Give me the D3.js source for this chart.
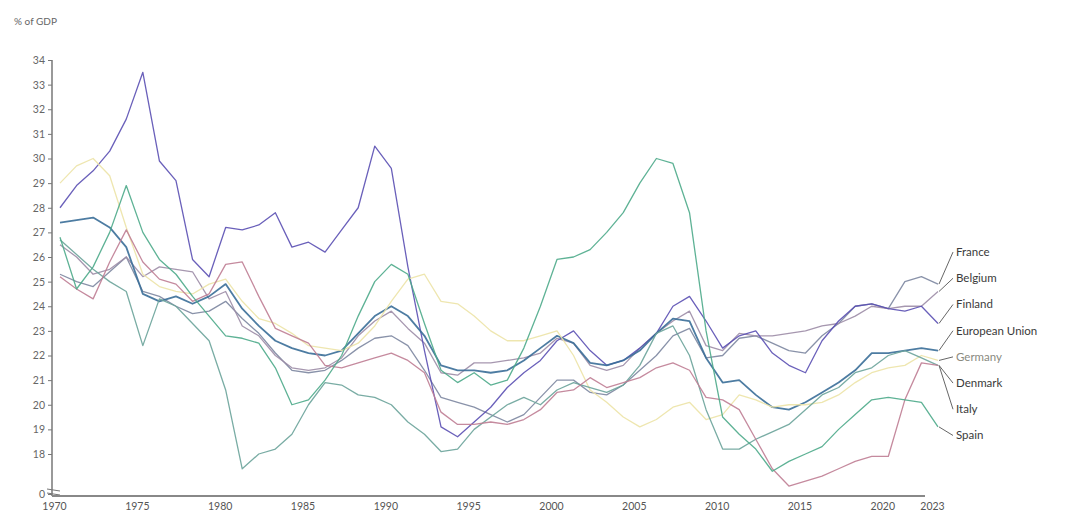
<!DOCTYPE html>
<html>
<head>
<meta charset="utf-8">
<script src="https://cdn.jsdelivr.net/npm/d3@7"></script>
<style>
  body { margin: 0; background: #fff; }
  svg text { font-family: Lato, "Open Sans", sans-serif; }
</style>
</head>
<body>
<div class="chart"></div>
<script>
const years = d3.range(1970, 2024)
const xTickYears = [1970, 1975, 1980, 1985, 1990, 1995, 2000, 2005, 2010, 2015, 2020, 2023]
const yTicks = [18, 19, 20, 21, 22, 23, 24, 25, 26, 27, 28, 29, 30, 31, 32, 33, 34]

const france = [25.3, 25.0, 24.8, 25.4, 26.0, 24.6, 24.4, 24.0, 23.7, 23.8, 24.2, 23.5, 22.9, 22.1, 21.4, 21.3, 21.4, 21.8, 22.3, 22.7, 22.8, 22.4, 21.4, 20.3, 20.1, 19.9, 19.6, 19.3, 19.6, 20.3, 21.0, 21.0, 20.5, 20.4, 20.8, 21.4, 22.0, 22.8, 23.1, 21.9, 22.0, 22.7, 22.8, 22.5, 22.2, 22.1, 22.8, 23.3, 24.0, 24.1, 23.9, 25.0, 25.2, 24.9]
const belgium = [26.5, 26.0, 25.3, 25.5, 26.0, 25.2, 25.6, 25.5, 25.4, 24.3, 24.6, 23.2, 22.8, 22.0, 21.5, 21.4, 21.5, 21.9, 22.8, 23.4, 23.8, 23.1, 22.5, 21.3, 21.2, 21.7, 21.7, 21.8, 21.9, 22.1, 22.7, 22.5, 21.6, 21.4, 21.6, 22.3, 22.9, 23.4, 23.8, 22.4, 22.2, 22.9, 22.8, 22.8, 22.9, 23.0, 23.2, 23.3, 23.6, 24.0, 23.9, 24.0, 24.0, 24.6]
const finland = [28.0, 28.9, 29.5, 30.3, 31.6, 33.5, 29.9, 29.1, 25.9, 25.2, 27.2, 27.1, 27.3, 27.8, 26.4, 26.6, 26.2, 27.1, 28.0, 30.5, 29.6, 25.6, 22.2, 19.1, 18.7, 19.3, 19.9, 20.7, 21.3, 21.8, 22.6, 23.0, 22.2, 21.6, 21.8, 22.3, 22.9, 24.0, 24.4, 23.4, 22.3, 22.8, 23.0, 22.1, 21.6, 21.3, 22.6, 23.4, 24.0, 24.1, 23.9, 23.8, 24.0, 23.3]
const eu = [27.4, 27.5, 27.6, 27.2, 26.4, 24.5, 24.2, 24.4, 24.1, 24.4, 24.9, 23.9, 23.2, 22.6, 22.3, 22.1, 22.0, 22.2, 22.9, 23.6, 24.0, 23.6, 22.8, 21.6, 21.4, 21.4, 21.3, 21.4, 21.8, 22.3, 22.8, 22.5, 21.7, 21.6, 21.8, 22.2, 22.9, 23.5, 23.4, 21.9, 20.9, 21.0, 20.4, 19.9, 19.8, 20.1, 20.5, 20.9, 21.4, 22.1, 22.1, 22.2, 22.3, 22.2]
const germany = [29.0, 29.7, 30.0, 29.3, 27.2, 25.3, 24.8, 24.6, 24.5, 24.9, 25.1, 24.2, 23.5, 23.3, 22.9, 22.4, 22.3, 22.2, 22.5, 23.2, 24.2, 25.1, 25.3, 24.2, 24.1, 23.6, 23.0, 22.6, 22.6, 22.8, 23.0, 22.0, 20.6, 20.1, 19.5, 19.1, 19.4, 19.9, 20.1, 19.4, 19.6, 20.4, 20.2, 19.9, 20.0, 20.0, 20.1, 20.4, 20.9, 21.3, 21.5, 21.6, 22.0, 21.8]
const denmark = [26.7, 26.1, 25.5, 25.0, 24.6, 22.4, 24.3, 24.0, 23.3, 22.6, 20.6, 17.4, 18.0, 18.2, 18.8, 20.0, 20.9, 20.8, 20.4, 20.3, 20.0, 19.3, 18.8, 18.1, 18.2, 19.0, 19.5, 20.0, 20.3, 20.0, 20.6, 20.9, 20.7, 20.5, 20.8, 21.6, 22.9, 23.2, 22.0, 19.8, 18.2, 18.2, 18.6, 18.9, 19.2, 19.8, 20.4, 20.7, 21.3, 21.5, 22.0, 22.2, 21.9, 21.6]
const italy = [25.2, 24.7, 24.3, 25.8, 27.1, 25.8, 25.1, 24.9, 24.2, 24.5, 25.7, 25.8, 24.4, 23.1, 22.8, 22.5, 21.6, 21.5, 21.7, 21.9, 22.1, 21.8, 21.3, 19.7, 19.2, 19.2, 19.3, 19.2, 19.4, 19.8, 20.5, 20.6, 21.1, 20.7, 20.9, 21.1, 21.5, 21.7, 21.4, 20.3, 20.2, 19.8, 18.6, 17.4, 16.7, 16.9, 17.1, 17.4, 17.7, 17.9, 17.9, 20.2, 21.7, 21.6]
const spain = [26.8, 24.7, 25.6, 27.0, 28.9, 27.0, 25.9, 25.3, 24.4, 23.6, 22.8, 22.7, 22.5, 21.5, 20.0, 20.2, 21.0, 22.0, 23.6, 25.0, 25.7, 25.3, 23.3, 21.4, 20.9, 21.3, 20.8, 21.0, 22.3, 24.0, 25.9, 26.0, 26.3, 27.0, 27.8, 29.0, 30.0, 29.8, 27.8, 23.0, 19.5, 18.8, 18.2, 17.3, 17.7, 18.0, 18.3, 19.0, 19.6, 20.2, 20.3, 20.2, 20.1, 19.1]

const names = ["France", "Belgium", "Finland", "European Union", "Germany", "Denmark", "Italy", "Spain"]
const values = [france, belgium, finland, eu, germany, denmark, italy, spain]
const colors = ["#7c86a0", "#9c8ca6", "#5a4fb2", "#3a6e98", "#ece3a6", "#6aa39a", "#bf7d93", "#4caa8a"]

const width = 1072, height = 522

const svg = d3.select(".chart").append("svg")
  .attr("width", width).attr("height", height)

svg.append("rect").attr("width", width).attr("height", height).attr("fill", "#fff")

const x = d3.scaleLinear().domain([1970, 2023]).range([60, 938])
const y = d3.scaleLinear().domain([18, 34]).range([454, 60])
const yBottom = y.invert(494)

svg.append("text").attr("x", 14).attr("y", 25)
  .attr("font-size", 10).attr("fill", "#666").text("% of GDP")

// y axis
const yAxis = svg.append("g").attr("transform", "translate(52,0)")
  .call(d3.axisLeft(y).tickValues([yBottom].concat(yTicks))
    .tickSize(4)
    .tickFormat(d => d === yBottom ? "0" : d))
yAxis.select(".domain").attr("stroke", "#777").attr("stroke-width", 1.5)
  .attr("d", `M0,${y(34)}V${y(yBottom) + 2}`)
yAxis.selectAll(".tick line").attr("stroke", "#777")
yAxis.selectAll("text").attr("font-size", 10.5).attr("fill", "#666")
  .attr("font-family", "Lato, 'Open Sans', sans-serif")

// axis break marks
const brk = svg.append("g").attr("stroke", "#777").attr("stroke-width", 1)
;[-3, 1].forEach(o => {
  brk.append("line").attr("x1", 47).attr("x2", 60)
    .attr("y1", y(yBottom) + o - 2).attr("y2", y(yBottom) + o)
})

// x axis
const xAxis = svg.append("g").attr("transform", `translate(0,${y(yBottom) + 2})`)
  .call(d3.axisBottom(x).tickValues(xTickYears).tickSize(0).tickPadding(7)
    .tickFormat(d3.format("d")))
xAxis.select(".domain").attr("stroke", "#888").attr("stroke-width", 2)
  .attr("d", "M52,0H925")
xAxis.selectAll("text").attr("font-size", 10.5).attr("fill", "#555")
  .attr("font-family", "Lato, 'Open Sans', sans-serif")
  .attr("dx", -6)

// lines
const line = d3.line().x((d, i) => x(years[i])).y(d => y(d))

svg.append("g").selectAll("path").data(values).enter().append("path")
  .attr("d", d => line(d))
  .attr("fill", "none")
  .attr("stroke", (d, i) => colors[i])
  .attr("stroke-opacity", 0.9)
  .attr("stroke-width", (d, i) => names[i] === "European Union" ? 1.8 : 1.3)
  .attr("stroke-linejoin", "round")

// labels with leader lines
const labelY = i => y(26.2) + i * 26.2
const lab = svg.append("g")
lab.selectAll("line").data(values).enter().append("line")
  .attr("x1", x(2023) + 1).attr("y1", d => y(d[d.length - 1]))
  .attr("x2", 953).attr("y2", (d, i) => labelY(i))
  .attr("stroke", "#555").attr("stroke-width", 0.9)
lab.selectAll("text").data(names).enter().append("text")
  .attr("x", 956).attr("y", (d, i) => labelY(i) + 4)
  .attr("font-size", 11.5)
  .attr("fill", d => d === "Germany" ? "#8a8a80" : "#3a3a3a")
  .text(d => d)
</script>
</body>
</html>
